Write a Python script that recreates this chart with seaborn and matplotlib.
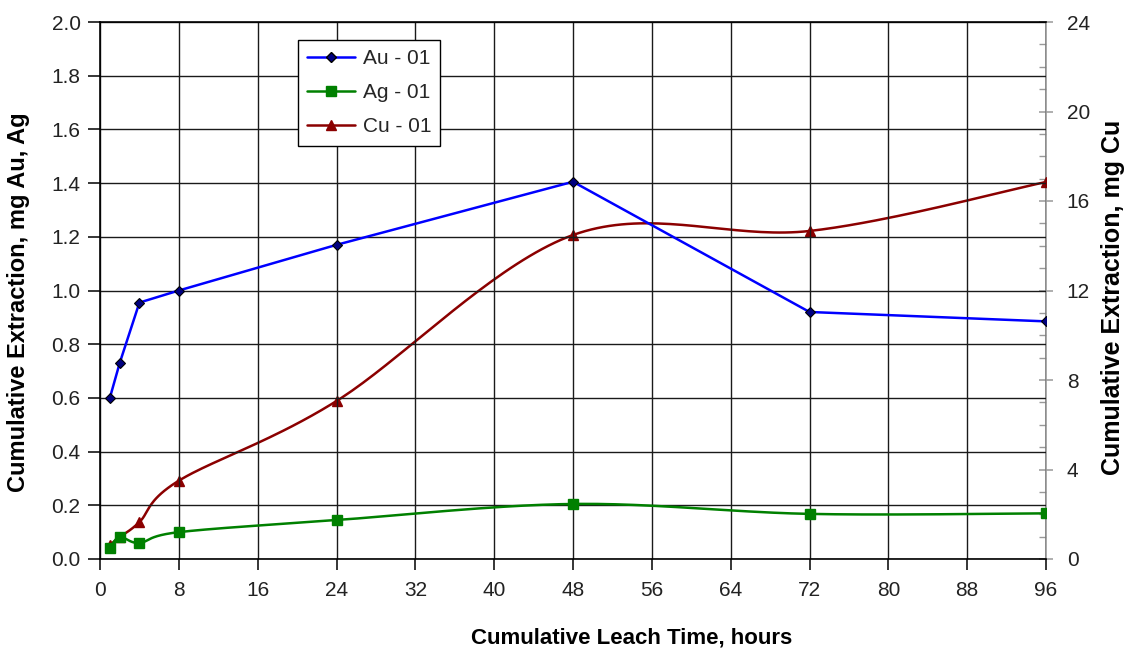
import numpy as np
import pandas as pd
import matplotlib
matplotlib.use("Agg")
import matplotlib.pyplot as plt
import seaborn as sns
from matplotlib.lines import Line2D
from matplotlib.ticker import MultipleLocator

# ---- data ----
hours = [1, 2, 4, 8, 24, 48, 72, 96]
au_mg = [0.60, 0.73, 0.955, 1.00, 1.17, 1.405, 0.92, 0.885]
ag_mg = [0.04, 0.082, 0.06, 0.10, 0.145, 0.205, 0.168, 0.17]
cu_mg = [0.63, 0.98, 1.65, 3.5, 7.06, 14.48, 14.66, 16.85]
series_names = ["Au - 01", "Ag - 01", "Cu - 01"]
x_ticks = list(range(0, 97, 8))
left_ticks = [round(0.2 * i, 1) for i in range(11)]
right_ticks = list(range(0, 25, 4))

sns.set_theme(style="white")
plt.rcParams["font.family"] = ["Liberation Sans", "DejaVu Sans"]

W, H = 1127, 651
fig = plt.figure(figsize=(W / 100, H / 100), dpi=100)
L, R, T, B = 100, 1046, 22, 559
ax = fig.add_axes([L / W, 1 - B / H, (R - L) / W, (B - T) / H])
ax2 = ax.twinx()

XMAX, YMAX, Y2MAX = 96, 2.0, 24


def smooth(x, y, xmax, ymax, n=40):
    """Excel-style (Catmull-Rom Bezier) smoothing in screen space."""
    w, h = R - L, B - T
    P = np.column_stack([np.array(x) / xmax * w, np.array(y) / ymax * h])
    Pp = np.vstack([P[0], P, P[-1]])
    out = []
    t = np.linspace(0, 1, n)[:, None]
    for i in range(1, len(Pp) - 2):
        p0, p1, p2, p3 = Pp[i - 1], Pp[i], Pp[i + 1], Pp[i + 2]
        c1 = p1 + (p2 - p0) / 6
        c2 = p2 - (p3 - p1) / 6
        seg = ((1 - t) ** 3) * p1 + 3 * ((1 - t) ** 2) * t * c1 + 3 * (1 - t) * t ** 2 * c2 + t ** 3 * p2
        out.append(seg if i == 1 else seg[1:])
    S = np.vstack(out)
    return pd.DataFrame({"x": S[:, 0] / w * xmax, "y": S[:, 1] / h * ymax})


au_col, ag_col, cu_col = "#0000FF", "#008000", "#8B0000"

# Au - straight segments
df_au = pd.DataFrame({"hours": hours, "mg": au_mg})
sns.lineplot(data=df_au, x="hours", y="mg", ax=ax, color=au_col, lw=1.8,
             marker="D", markersize=5, markerfacecolor="#000080",
             markeredgecolor="black", markeredgewidth=0.8, zorder=5)

# Ag - smoothed
ag_s = smooth(hours, ag_mg, XMAX, YMAX)
sns.lineplot(data=ag_s, x="x", y="y", ax=ax, color=ag_col, lw=1.8,
             sort=False, estimator=None, zorder=4)
ax.plot(hours, ag_mg, ls="none", marker="s", ms=7, mfc=ag_col, mec=ag_col, zorder=4)

# Cu - smoothed on secondary axis
cu_s = smooth(hours, cu_mg, XMAX, Y2MAX)
sns.lineplot(data=cu_s, x="x", y="y", ax=ax2, color=cu_col, lw=1.8,
             sort=False, estimator=None, zorder=4)
ax2.plot(hours, cu_mg, ls="none", marker="^", ms=7, mfc=cu_col, mec=cu_col, zorder=4)

# axes
ax.set_xlim(0, XMAX)
ax.set_ylim(0, YMAX)
ax2.set_ylim(0, Y2MAX)
ax.set_xticks(x_ticks)
ax.set_yticks(left_ticks)
ax.set_yticklabels([f"{v:.1f}" for v in left_ticks])
ax2.set_yticks(right_ticks)
ax2.yaxis.set_minor_locator(MultipleLocator(1))

ax.grid(True, color="#1a1a1a", lw=1.0)
ax.set_axisbelow(True)
for s in ["left", "bottom", "top"]:
    ax.spines[s].set_color("black")
    ax.spines[s].set_linewidth(1.2)
ax.spines["right"].set_visible(False)
for s in ["left", "bottom", "top"]:
    ax2.spines[s].set_visible(False)
ax2.spines["right"].set_color("#999999")
ax2.spines["right"].set_linewidth(1.2)

ax.tick_params(axis="y", which="major", direction="out", length=9, width=1.1,
               color="black", labelsize=15, labelcolor="#222222", pad=5, left=True)
ax.tick_params(axis="x", which="major", direction="out", length=8, width=1.1,
               color="black", labelsize=15, labelcolor="#222222", pad=8, bottom=True)
ax2.tick_params(axis="y", which="major", direction="inout", length=10, width=1.1,
                color="#999999", labelsize=15, labelcolor="#222222", pad=10, right=True)
ax2.tick_params(axis="y", which="minor", direction="in", length=5, width=1.0,
                color="#999999", right=True)

ax.set_xlabel("Cumulative Leach Time, hours", fontsize=16, fontweight="bold", color="black")
ax.xaxis.set_label_coords(0.562, -0.128)
ax.xaxis.label.set_va("top")
ax.set_ylabel("Cumulative Extraction, mg Au, Ag", fontsize=17, fontweight="bold", color="black")
ax.yaxis.set_label_coords(-0.074, 0.479)
ax2.set_ylabel("Cumulative Extraction, mg Cu", fontsize=18, fontweight="bold", color="black")
ax2.yaxis.set_label_coords(1.058, 0.487)

handles = [
    Line2D([], [], color=au_col, lw=1.8, marker="D", ms=5, mfc="#000080", mec="black"),
    Line2D([], [], color=ag_col, lw=1.8, marker="s", ms=7, mfc=ag_col, mec=ag_col),
    Line2D([], [], color=cu_col, lw=1.8, marker="^", ms=7, mfc=cu_col, mec=cu_col),
]
leg = ax.legend(handles, series_names, loc="upper left",
                bbox_to_anchor=((298 - L) / (R - L), (B - 40) / (B - T)),
                fontsize=15, frameon=True, fancybox=False, framealpha=1,
                edgecolor="black", handlelength=2.3, borderpad=0.45,
                labelspacing=0.72, handletextpad=0.35, borderaxespad=0)
leg.get_frame().set_linewidth(1.0)
leg.set_zorder(10)
ax.set_zorder(ax2.get_zorder() + 1)
ax.patch.set_visible(False)

fig.savefig("out.png", dpi=100, facecolor="white")
